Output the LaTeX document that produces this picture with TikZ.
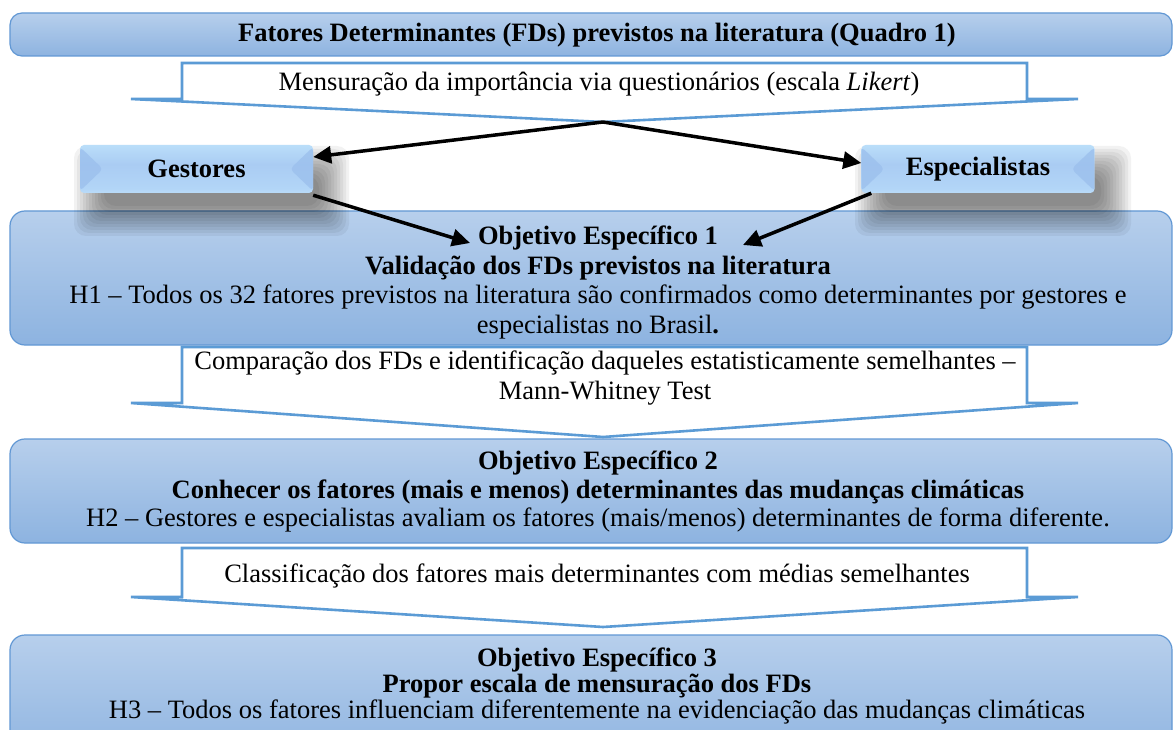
\documentclass[tikz,border=0pt]{standalone}
\usepackage{fontspec}
\setmainfont{Liberation Serif}
\usetikzlibrary{arrows.meta}
\definecolor{boxtop}{RGB}{183,207,236}
\definecolor{boxbot}{RGB}{141,179,224}
\definecolor{boxline}{RGB}{98,152,212}
\definecolor{calline}{RGB}{91,155,213}
\definecolor{btnA}{RGB}{200,228,250}
\definecolor{btnB}{RGB}{214,240,254}
\definecolor{btnC}{RGB}{178,213,247}
\definecolor{btnD}{RGB}{170,204,243}
\definecolor{btnE}{RGB}{190,226,251}
\definecolor{btnF}{RGB}{222,245,255}
\definecolor{btnG}{RGB}{236,250,255}
\definecolor{btntri}{RGB}{156,192,237}
\pgfdeclareverticalshading{btnshade}{100bp}{color(0bp)=(btnA); color(8bp)=(btnB); color(30bp)=(btnC); color(55bp)=(btnD); color(80bp)=(btnE); color(92bp)=(btnF); color(100bp)=(btnG)}
\tikzset{
  bigbox/.style={draw=boxline, line width=1.2pt, rounded corners=12pt, top color=boxtop, bottom color=boxbot, inner sep=0pt},
  callout/.style={draw=calline, line width=2.6pt, fill=white, line join=miter},
  softshadow/.style={fill=black, opacity=0.05},
  btn/.style={rounded corners=4pt, shading=btnshade, minimum width=233pt, minimum height=48pt, inner sep=0pt,
    font=\fontsize{26.5}{29.5}\selectfont\bfseries,
    path picture={
      \fill[btntri, opacity=0.8] ([yshift=-2pt]path picture bounding box.north west) -- ([xshift=23pt]path picture bounding box.west) -- ([yshift=2pt]path picture bounding box.south west) -- cycle;
      \fill[btntri, opacity=0.8] ([yshift=-2pt]path picture bounding box.north east) -- ([xshift=-23pt]path picture bounding box.east) -- ([yshift=2pt]path picture bounding box.south east) -- cycle;
    }},
  arr/.style={line width=3.5pt, draw=black, -{Triangle[length=18pt,width=17pt]}},
  txt/.style={font=\fontsize{26.5}{29.5}\selectfont, align=center, inner sep=0pt},
}
\begin{document}
\begin{tikzpicture}[x=1pt,y=-1pt]
\useasboundingbox (0,0) rectangle (1176,730);
\clip (0,0) rectangle (1176,730);
\fill[white] (0,0) rectangle (1176,730);

% callouts
\draw[callout] (182,63) -- (1027,63) -- (1027,99) -- (1078,99) -- (603,122) coordinate (tip1) -- (131,99) -- (182,99) -- cycle;
\draw[callout] (182,347) -- (1027,347) -- (1027,403) -- (1078,403) -- (603,437) coordinate (tip2) -- (131,403) -- (182,403) -- cycle;
\draw[callout] (182,548) -- (1027,548) -- (1027,597) -- (1078,597) -- (603,627) coordinate (tip3) -- (131,597) -- (182,597) -- cycle;

% main boxes
\node[bigbox, minimum width=1162pt, minimum height=43pt] (b1) at (591,34.5) {};
\node[bigbox, minimum width=1162pt, minimum height=134pt, rounded corners=15pt] (b2) at (591,278) {};
\node[bigbox, minimum width=1162pt, minimum height=104pt, rounded corners=15pt] (b3) at (591,491) {};
\node[bigbox, minimum width=1162pt, minimum height=130pt, rounded corners=15pt] (b4) at (591,700) {};

% soft shadows of the two buttons
\foreach \r in {21,18,15,12,9,6,3,0,-3,-6,-9}{
  \fill[softshadow, rounded corners=12pt] (95-\r,167-\r) rectangle (328+\r,215+\r);
  \fill[softshadow, rounded corners=12pt] (876-\r,167-\r) rectangle (1110+\r,215+\r);
}

% buttons
\node[btn] (gest) at (196.5,169) {Gestores};
\node[btn] (espe) at (978,169) {Especialistas};

% connector ends inside objective 1
\coordinate (o1L) at (470,243);
\coordinate (o1R) at (743,245);

% arrows
\draw[arr] (tip1) -- ([yshift=12pt]gest.east);
\draw[arr] (tip1) -- ([yshift=6pt]espe.west);
\draw[arr] ([yshift=-2pt]gest.south east) -- (o1L);
\draw[arr] ([xshift=10pt]espe.south west) -- (o1R);

% texts
\node[txt, font=\fontsize{26.5}{29.5}\selectfont\bfseries] (t1) at (597,35) {Fatores Determinantes (FDs) previstos na literatura (Quadro 1)};
\node[txt] (tc1) at (599,84) {Mensuração da importância via questionários (escala \textit{Likert})};
\node[txt] (t2) at (598,282.5) {\textbf{Objetivo Específico 1}\\\textbf{Validação dos FDs previstos na literatura}\\H1 – Todos os 32 fatores previstos na literatura são confirmados como determinantes por gestores e\\especialistas no Brasil\textbf{.}};
\node[txt] (tc2) at (605,378) {Comparação dos FDs e identificação daqueles estatisticamente semelhantes –\\Mann-Whitney Test};
\node[txt, font=\fontsize{26.5}{28.5}\selectfont] (t3) at (598,491.5) {\textbf{Objetivo Específico 2}\\\textbf{Conhecer os fatores (mais e menos) determinantes das mudanças climáticas}\\H2 – Gestores e especialistas avaliam os fatores (mais/menos) determinantes de forma diferente.};
\node[txt] (tc3) at (597,576) {Classificação dos fatores mais determinantes com médias semelhantes};
\node[txt, font=\fontsize{26.5}{26}\selectfont] (t4) at (597,686) {\textbf{Objetivo Específico 3}\\\textbf{Propor escala de mensuração dos FDs}\\H3 – Todos os fatores influenciam diferentemente na evidenciação das mudanças climáticas};
\end{tikzpicture}
\end{document}
